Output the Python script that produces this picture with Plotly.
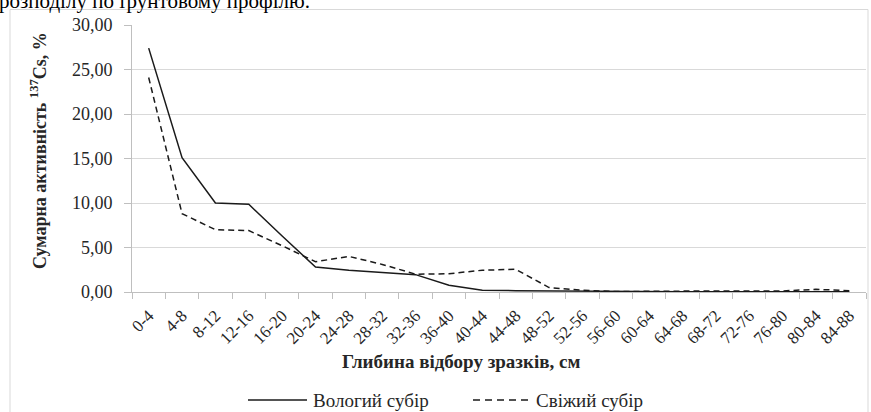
import plotly.graph_objects as go

categories = ["0-4", "4-8", "8-12", "12-16", "16-20", "20-24", "24-28", "28-32",
              "32-36", "36-40", "40-44", "44-48", "48-52", "52-56", "56-60", "60-64",
              "64-68", "68-72", "72-76", "76-80", "80-84", "84-88"]
wet_subir = [27.4, 15.1, 10.0, 9.85, 6.3, 2.8, 2.45, 2.2, 1.95, 0.75, 0.2, 0.15,
             0.12, 0.08, 0.03, 0.03, 0.03, 0.03, 0.03, 0.03, 0.03, 0.03]
fresh_subir = [24.1, 8.8, 7.0, 6.9, 5.2, 3.4, 4.0, 3.1, 2.0, 2.05, 2.45, 2.55,
               0.5, 0.2, 0.05, 0.1, 0.1, 0.1, 0.1, 0.12, 0.3, 0.15]
series_names = ["Вологий субір", "Свіжий субір"]
y_tick_vals = [0, 5, 10, 15, 20, 25, 30]
y_tick_text = ["0,00", "5,00", "10,00", "15,00", "20,00", "25,00", "30,00"]
grid_vals = [5, 10, 15, 20, 25]

SERIF = "Liberation Serif"
TXT = "#262626"
W, H = 871, 412
L, R, T, B = 132, 5, 25, 120
pw, ph = W - L - R, H - T - B

def px(x):
    return (x - L) / pw

def py(y):
    return (H - B - y) / ph

fig = go.Figure()
fig.add_trace(go.Scatter(x=categories, y=wet_subir, mode="lines", name=series_names[0],
                         line=dict(color="#1a1a1a", width=1.5)))
fig.add_trace(go.Scatter(x=categories, y=fresh_subir, mode="lines", name=series_names[1],
                         line=dict(color="#1a1a1a", width=1.5, dash="6px,4px")))
# overlay axis only for horizontal gridlines (no gridline at the top value)
fig.add_trace(go.Scatter(x=categories, y=wet_subir, yaxis="y2", mode="lines",
                         line=dict(width=0), showlegend=False, hoverinfo="skip", opacity=0))

shapes = [
    dict(type="rect", xref="paper", yref="paper",
         x0=px(10), x1=px(868), y0=py(430), y1=py(9.5),
         line=dict(color="#d9d9d9", width=1), fillcolor="rgba(0,0,0,0)", layer="below"),
    # legend samples
    dict(type="line", xref="paper", yref="paper", x0=px(248), x1=px(307), y0=py(400), y1=py(400),
         line=dict(color="#1a1a1a", width=1.5)),
    dict(type="line", xref="paper", yref="paper", x0=px(473), x1=px(528), y0=py(400), y1=py(400),
         line=dict(color="#1a1a1a", width=1.5, dash="7px,5px")),
]

annotations = [
    dict(text="<b>Глибина відбору зразків, см</b>", xref="paper", yref="paper",
         x=px(461), y=py(361), xanchor="center", yanchor="middle", showarrow=False,
         font=dict(size=19, family=SERIF, color=TXT)),
    dict(text="<b>Сумарна активність <sup>137</sup>Cs, %</b>", xref="paper", yref="paper",
         x=px(38), y=py(151), xanchor="center", yanchor="middle", showarrow=False,
         textangle=-90, font=dict(size=18, family=SERIF, color=TXT)),
    dict(text="розподілу по ґрунтовому профілю.", xref="paper", yref="paper",
         x=px(-3), y=py(15), xanchor="left", yanchor="bottom", showarrow=False,
         font=dict(size=21, family=SERIF, color="black")),
    dict(text=series_names[0], xref="paper", yref="paper",
         x=px(311), y=py(400), xanchor="left", yanchor="middle", showarrow=False,
         font=dict(size=19, family=SERIF, color=TXT)),
    dict(text=series_names[1], xref="paper", yref="paper",
         x=px(534), y=py(400), xanchor="left", yanchor="middle", showarrow=False,
         font=dict(size=19, family=SERIF, color=TXT)),
]

fig.update_layout(
    width=W, height=H,
    margin=dict(l=L, r=R, t=T, b=B, autoexpand=False),
    paper_bgcolor="white", plot_bgcolor="rgba(0,0,0,0)",
    font=dict(family=SERIF, color=TXT),
    xaxis=dict(type="category", range=[-0.5, len(categories) - 0.5],
               showline=True, linecolor="#bfbfbf", linewidth=1,
               ticks="outside", tickson="boundaries", ticklen=6, tickcolor="#bfbfbf",
               tickangle=-45, tickfont=dict(size=17, family=SERIF, color=TXT),
               ticklabelstandoff=6, automargin=False,
               showgrid=False, zeroline=False),
    yaxis=dict(range=[0, 30], tickvals=y_tick_vals, ticktext=y_tick_text,
               showline=True, linecolor="#bfbfbf", linewidth=1,
               ticks="outside", ticklen=7, tickcolor="#bfbfbf",
               tickfont=dict(size=18, family=SERIF, color=TXT),
               ticklabelstandoff=8, automargin=False,
               showgrid=False, zeroline=False),
    yaxis2=dict(range=[0, 30], overlaying="y", tickvals=grid_vals, showticklabels=False,
                showgrid=True, gridcolor="#d9d9d9", gridwidth=1, zeroline=False,
                showline=False, ticks=""),
    showlegend=False,
    shapes=shapes,
    annotations=annotations,
)

fig.write_html("out.html",
               config={"displayModeBar": False},
               post_script="document.body.style.margin='0px';document.body.style.overflow='hidden';")
